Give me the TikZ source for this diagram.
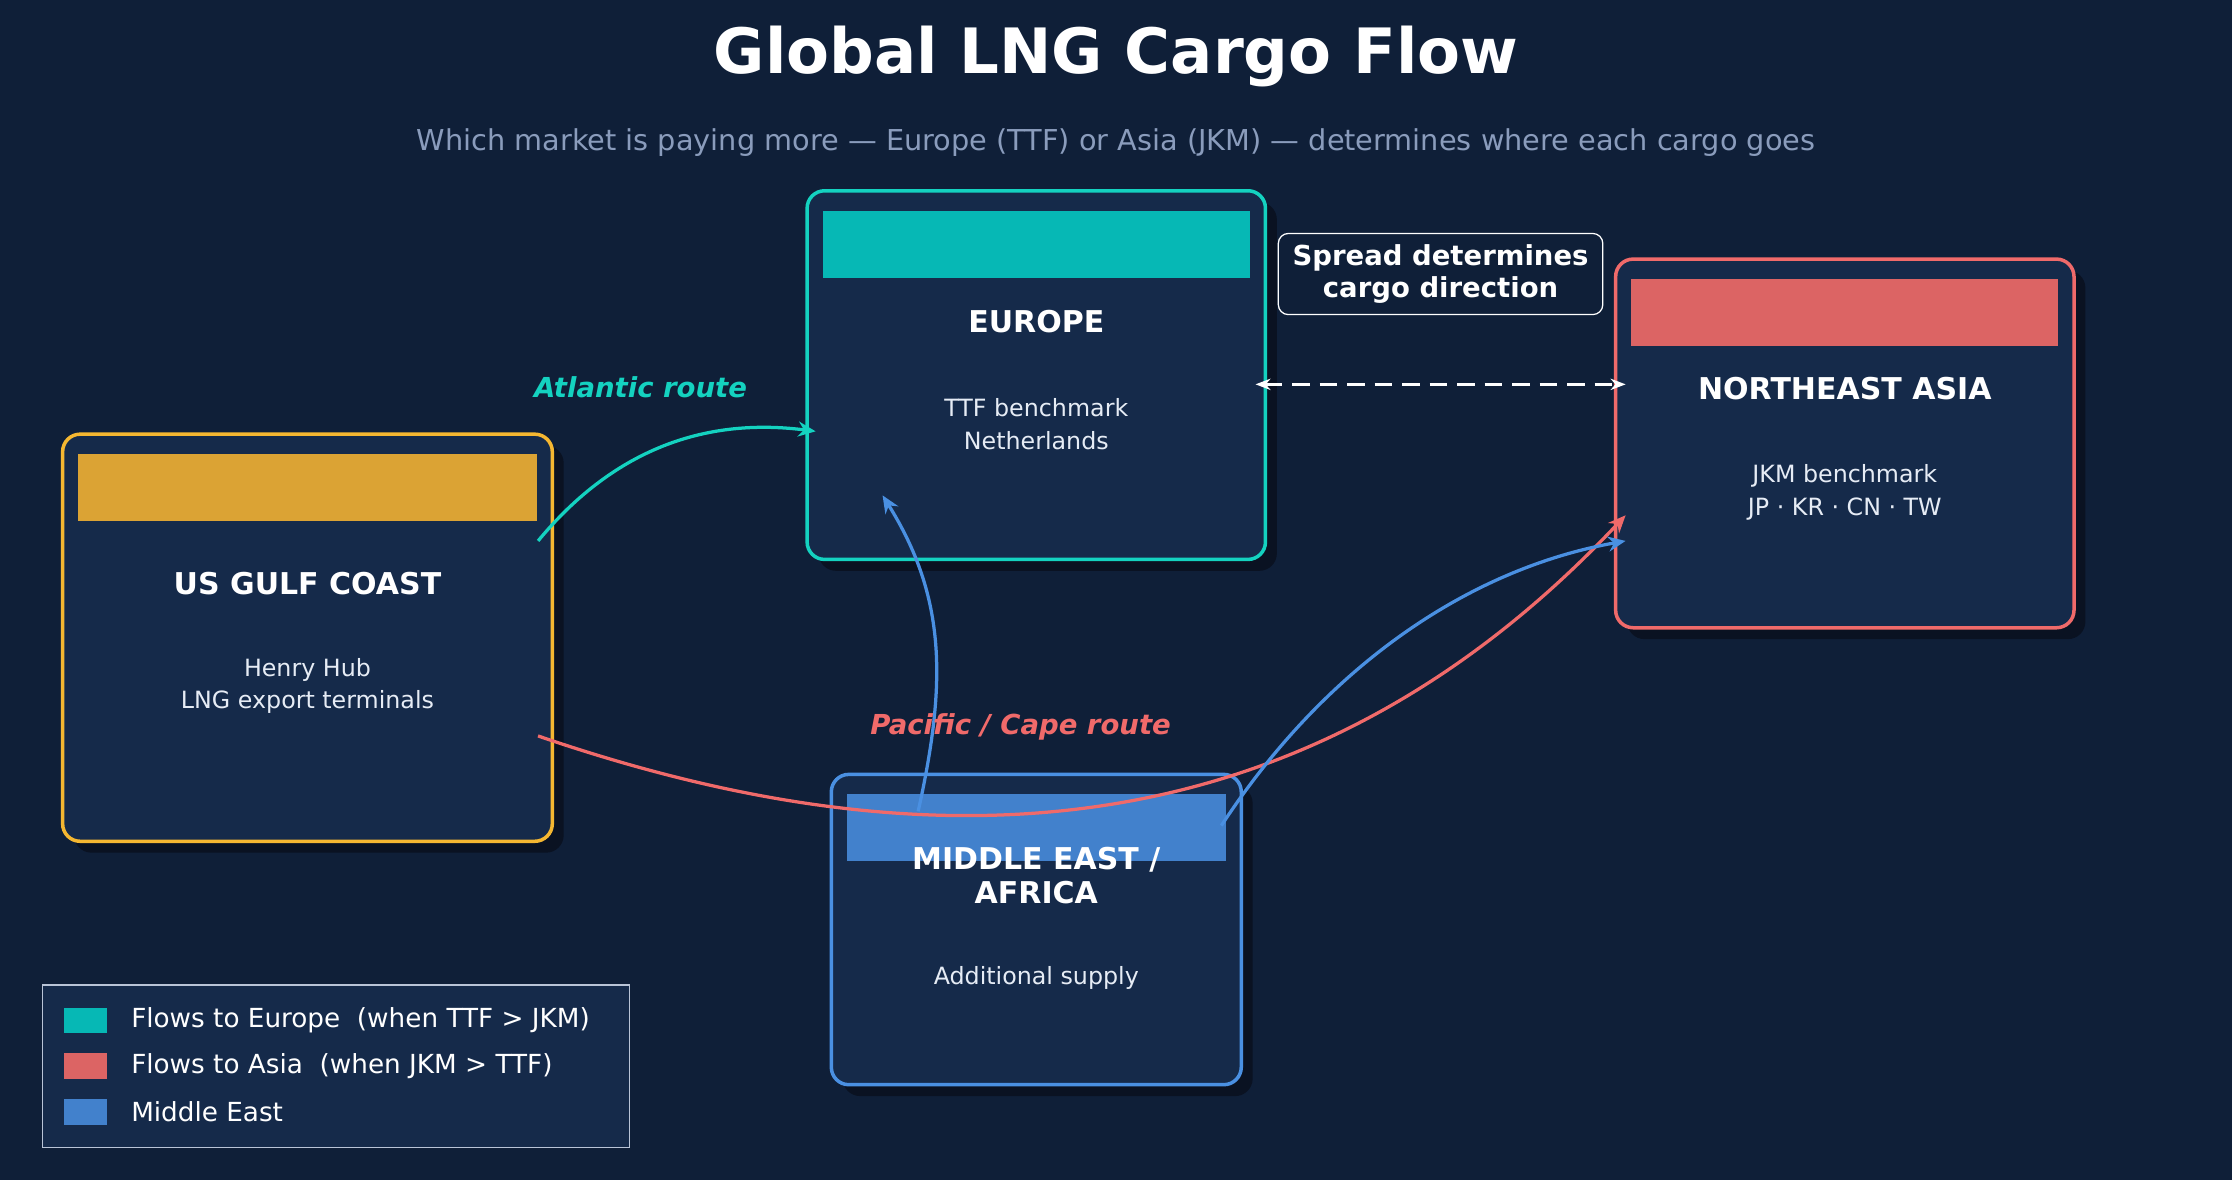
\documentclass[tikz,border=0pt]{standalone}
\usepackage{fontspec}
\setmainfont{DejaVu Sans}
\usetikzlibrary{arrows.meta}
\definecolor{bg}{HTML}{0F1F38}
\definecolor{card}{HTML}{152A4A}
\definecolor{shade}{HTML}{0A1222}
\definecolor{teal}{HTML}{14D2C0}
\definecolor{tealbar}{HTML}{06B8B5}
\definecolor{coral}{HTML}{F06A6A}
\definecolor{coralbar}{HTML}{DC6464}
\definecolor{gold}{HTML}{F5B731}
\definecolor{goldbar}{HTML}{DBA334}
\definecolor{sky}{HTML}{4A90E2}
\definecolor{skybar}{HTML}{4281CC}
\definecolor{muted}{HTML}{8A9CBC}
\definecolor{soft}{HTML}{E6ECF5}
\tikzset{
  card/.style={draw=#1, line width=1.4pt, fill=card, rounded corners=7pt},
  shadow/.style={fill=shade, rounded corners=7pt},
  head/.style={font=\bfseries\fontsize{12}{14}\selectfont, text=white, align=center},
  body/.style={font=\fontsize{9.5}{13}\selectfont, text=soft, align=center},
  flow/.style={line width=1.3pt, -{Stealth[length=7pt,width=6pt]}},
  route/.style={font=\bfseries\itshape\fontsize{11}{13}\selectfont}
}
\begin{document}
\begin{tikzpicture}[x=0.02cm,y=-0.02cm]
\fill[bg] (0,0) rectangle (1568,829);
\useasboundingbox (0,0) rectangle (1568,829);

% title
\node[font=\bfseries\fontsize{25}{30}\selectfont, text=white] (title) at (784,40) {Global LNG Cargo Flow};
\node[font=\fontsize{11.5}{14}\selectfont, text=muted] (sub) at (784,100) {Which market is paying more — Europe (TTF) or Asia (JKM) — determines where each cargo goes};

% cards
\fill[shadow] (575,142) rectangle (897,401);
\draw[card=teal] (567,134) rectangle (889,393);
\fill[tealbar] (578,148) rectangle (878,195);
\node[head] (eu) at (728,226) {EUROPE};
\node[body] (eutxt) at (728,298) {TTF benchmark\\Netherlands};

\fill[shadow] (1143,190) rectangle (1465,449);
\draw[card=coral] (1135,182) rectangle (1457,441);
\fill[coralbar] (1146,196) rectangle (1446,243);
\node[head] (asia) at (1296,273) {NORTHEAST ASIA};
\node[body] (asiatxt) at (1296,346) {JKM benchmark\\JP · KR · CN · TW};

\fill[shadow] (52,313) rectangle (396,599);
\draw[card=gold] (44,305) rectangle (388,591);
\fill[goldbar] (55,319) rectangle (377,366);
\node[head] (us) at (216,410) {US GULF COAST};
\node[body] (ustxt) at (216,482) {Henry Hub\\LNG export terminals};

\fill[shadow] (592,552) rectangle (880,770);
\draw[card=sky] (584,544) rectangle (872,762);
\fill[skybar] (595,558) rectangle (861,605);
\node[head, font=\bfseries\fontsize{12}{13.5}\selectfont] (me) at (728,615) {MIDDLE EAST /\\AFRICA};
\node[body] (metxt) at (728,687) {Additional supply};

% spread
\node[draw=white, line width=0.5pt, rounded corners=4pt, fill=bg, inner sep=4pt,
      font=\bfseries\fontsize{11}{13}\selectfont, text=white, align=center,
      minimum width=4.56cm, minimum height=1.14cm] (spread) at (1012,192.5) {Spread determines\\cargo direction};

% connector ends
\coordinate (euL) at (882,270);
\coordinate (asL) at (1142,270);
\coordinate (usA) at (378,380);
\coordinate (euA) at (573,303);
\coordinate (usP) at (378,517);
\coordinate (asP) at (1142,362);
\coordinate (meE) at (645,570);
\coordinate (euM) at (620,348);
\coordinate (meA) at (858,580);
\coordinate (asM) at (1142,380);

\draw[white, line width=1.3pt, dashed, dash pattern=on 7pt off 4pt, {Stealth[length=6pt]}-{Stealth[length=6pt]}] (euL) -- (asL);
\draw[flow, teal] (usA) .. controls (440,305) and (510,295) .. (euA);
\draw[flow, coral] (usP) .. controls (620,600) and (900,620) .. (asP);
\draw[flow, sky] (meE) .. controls (665,480) and (665,420) .. (euM);
\draw[flow, sky] (meA) .. controls (930,470) and (1030,400) .. (asM);

\node[route, text=teal] (atl) at (450,272) {Atlantic route};
\node[route, text=coral] (pac) at (717,511) {Pacific / Cape route};

% legend
\draw[draw=muted!60, line width=0.5pt, fill=card] (30,692) rectangle (442,806);
\foreach \c/\t [count=\i] in {tealbar/Flows to Europe\ \ (when TTF > JKM),
    coralbar/Flows to Asia\ \ (when JKM > TTF), skybar/Middle East / Africa supply}{
  \fill[\c] (45,676+32*\i) rectangle (75,694+32*\i);
  \node[anchor=west, text=white, font=\fontsize{10.5}{12}\selectfont] (lg\i) at (86,685+32*\i) {\t};
}
\end{tikzpicture}
\end{document}
